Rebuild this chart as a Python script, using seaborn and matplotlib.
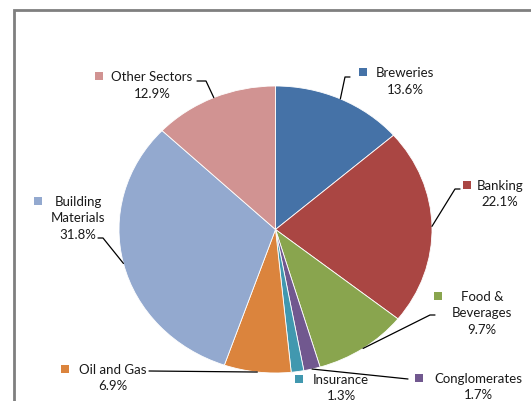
import numpy as np
import matplotlib
matplotlib.use("Agg")
import matplotlib.pyplot as plt
import seaborn as sns

# Sector shares (%), clockwise from 12 o'clock
sectors = ["Breweries", "Banking", "Food &\nBeverages", "Conglomerates",
           "Insurance", "Oil and Gas", "Building\nMaterials", "Other Sectors"]
shares = [13.6, 22.1, 9.7, 1.7, 1.3, 6.9, 31.8, 12.9]
colors = ["#4572A7", "#AA4643", "#89A54E", "#71588F",
          "#4198AF", "#DB843D", "#93A9CF", "#D19392"]

# label layout in pixels (block centre x, first line y, legend square x)
label_pos = [(405, 73, 363), (500, 186, 467), (482, 297, 438), (478, 379, 419),
             (341, 380, 299), (113, 370, 65), (78, 202, 38), (152, 77, 99)]
# leader elbow points (pixels), None = no leader
leaders = [[(350, 78), (345, 78)], [(460, 190), (455, 190)],
           [(435, 316), (430, 316)], [(408, 380)], None,
           [(149, 372)], [(98, 239), (103, 239)], [(197, 82), (206, 82)]]

sns.set_theme(style="white")
plt.rcParams["font.family"] = ["Lato", "DejaVu Sans"]

W, H = 531, 402
fig = plt.figure(figsize=(W / 100, H / 100), dpi=100)
fig.patch.set_facecolor("white")

# pie axes (slightly squashed ellipse like the original)
cx, cy, rx, ry = 275.5, 230.5, 156.5, 143.5
pax = fig.add_axes([(cx - rx) / W, (H - cy - ry) / H, 2 * rx / W, 2 * ry / H])
wedges, _ = pax.pie(shares, colors=colors, startangle=90, counterclock=False,
                    radius=1, wedgeprops=dict(edgecolor="white", linewidth=0.6))
pax.set_aspect("auto")
pax.set_xlim(-1, 1)
pax.set_ylim(-1, 1)
pax.axis("off")

# overlay axes in pixel coordinates
ax = fig.add_axes([0, 0, 1, 1], facecolor="none")
ax.set_xlim(0, W)
ax.set_ylim(H, 0)
ax.axis("off")

# chart frame (cropped)
ax.plot([13.5, 13.5, W + 5], [H + 5, 10.5, 10.5], color="#7f7f7f", lw=2, solid_joinstyle="miter")

total = sum(shares)
for w, name, val, col, (lx, ly, sx), ld in zip(wedges, sectors, shares, colors, label_pos, leaders):
    lines = name.split("\n") + [f"{val / total * 100:.1f}%"]
    for i, t in enumerate(lines):
        ax.text(lx, ly + i * 16.5, t, ha="center", va="center", fontsize=9.5, color="#1a1a1a")
    ax.scatter([sx], [ly], marker="s", s=28, color=col, linewidths=0)
    if ld is not None:
        mid = np.deg2rad((w.theta1 + w.theta2) / 2)
        ex, ey = cx + rx * np.cos(mid), cy - ry * np.sin(mid)
        pts = ld + [(ex, ey)]
        ax.plot([p[0] for p in pts], [p[1] for p in pts], color="black", lw=0.9)

fig.savefig("out.png", dpi=100)
